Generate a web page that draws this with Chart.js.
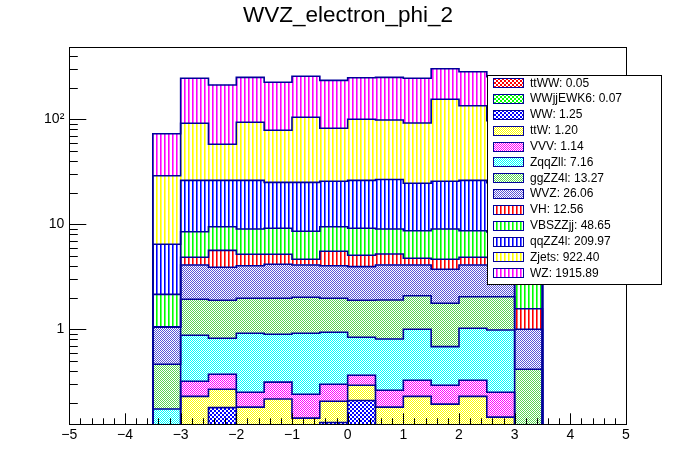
<!DOCTYPE html>
<html>
<head>
<meta charset="utf-8">
<script src="https://cdn.jsdelivr.net/npm/chart.js@4.4.1/dist/chart.umd.min.js"></script>
<style>
html,body{margin:0;padding:0;background:#fff;}
#wrap{width:696px;height:472px;}
canvas{image-rendering:pixelated;}
</style>
</head>
<body>
<div id="wrap"><canvas id="c" width="696" height="472"></canvas></div>
<script>
// ---- data ----
const binEdges = [-3.5, -3, -2.5, -2, -1.5, -1, -0.5, 0, 0.5, 1, 1.5, 2, 2.5, 3, 3.5];
const seriesNames = ['ttWW','WWjjEWK6','WW','ttW','VVV','ZqqZll','ggZZ4l','WVZ','VH','VBSZZjj','qqZZ4l','Zjets','WZ'];
const legendYields = ['0.05','0.07','1.25','1.20','1.14','7.16','13.27','26.06','12.56','48.65','209.97','922.40','1915.89'];

const ttWW     = [0.001,0.004,0.004,0.004,0.004,0.004,0.004,0.004,0.004,0.004,0.004,0.004,0.004,0.001];
const WWjjEWK6 = [0.001,0.0055,0.0055,0.0055,0.0055,0.0055,0.0055,0.0055,0.0055,0.0055,0.0055,0.0055,0.0055,0.001];
const WW       = [0.04,0.10,0.17,0.09,0.10,0.05,0.12,0.20,0.09,0.10,0.09,0.10,0.05,0.03];
const ttW      = [0.02,0.12,0.089,0.082,0.107,0.083,0.077,0.084,0.082,0.12,0.094,0.12,0.086,0.02];
const VVV      = [0.03,0.090,0.105,0.070,0.097,0.098,0.093,0.072,0.081,0.097,0.100,0.097,0.106,0.02];
const ZqqZll   = [0.082,0.557,0.448,0.665,0.583,0.676,0.637,0.474,0.546,0.673,0.390,0.695,0.734,0.04];
const ggZZ4l   = [0.290,1.054,1.068,1.057,1.077,1.104,1.037,1.050,1.092,1.090,1.087,1.018,1.055,0.304];
const WVZ      = [0.581,2.169,2.011,2.057,2.187,2.080,2.057,2.061,2.200,2.010,1.960,2.060,2.050,0.584];
const VH       = [0.01,0.75,1.75,1.15,1.02,0.54,1.50,1.12,1.11,0.65,0.91,0.75,0.75,0.57];
const VBSZZjj  = [1.095,3.65,3.84,3.84,3.98,3.94,3.96,4.09,3.81,3.94,4.38,3.84,3.60,1.30];
const qqZZ4l   = [4.30,17.70,16.71,17.18,15.94,16.52,16.21,17.04,17.68,15.91,16.68,17.51,16.50,4.30];
const Zjets    = [22.55,65.4,31.6,67.4,53.5,79.4,56.4,73.8,71.7,67.6,129.3,108.5,72.0,23.0];
const WZ       = [43.9,154.1,154.2,157.4,146.4,152.5,152.9,149.0,152.6,153.5,148.0,149.3,157.0,45.0];

const yTickValues = [1, 10, 100];
const yTickLabels = ['1', '10', '10\u00B2'];
const titleText = 'WVZ_electron_phi_2';

// ---- styles ----
const seriesValues = [ttWW, WWjjEWK6, WW, ttW, VVV, ZqqZll, ggZZ4l, WVZ, VH, VBSZZjj, qqZZ4l, Zjets, WZ];
const seriesColors = ['#ff0000','#00ff00','#0000ff','#ffff00','#ff00ff','#00ffff','#59d454','#5954d8','#ff0000','#00ff00','#0000ff','#ffff00','#ff00ff'];
const seriesFill   = ['check2','check2','check2','check','check','check','check','check','vline','vline','vline','vline','vline'];
const lineColor = '#00009a';
const FONT = "'Liberation Sans', Arial, Helvetica, sans-serif";
const Y_MIN = 0.1245, Y_MAX = 485, FLOOR = 1e-4;

function makePattern(color, kind) {
  const c = document.createElement('canvas');
  const g = c.getContext('2d');
  if (kind === 'check' || kind === 'check2') {
    const s = kind === 'check2' ? 2 : 1;
    c.width = 8; c.height = 8;
    g.fillStyle = '#fff'; g.fillRect(0, 0, 8, 8);
    g.fillStyle = color;
    for (let yy = 0; yy < 8; yy += s) {
      for (let xx = 0; xx < 8; xx += s) {
        if (((xx / s) + (yy / s)) % 2 === 0) g.fillRect(xx, yy, s, s);
      }
    }
  } else {
    c.width = 4; c.height = 4;
    g.fillStyle = '#fff'; g.fillRect(0, 0, 4, 4);
    g.fillStyle = color; g.fillRect(0, 0, 1, 4);
    g.globalAlpha = 0.6; g.fillRect(1, 0, 1, 4);
  }
  return g.createPattern(c, 'repeat');
}
const patterns = seriesColors.map((col, k) => makePattern(col, seriesFill[k]));

// ---- build stacked layers ----
const centers = binEdges.slice(0, -1).map((e, i) => (e + binEdges[i + 1]) / 2);
const layers = [];
let running = centers.map(() => FLOOR);
seriesValues.forEach(vals => {
  const lo = running.slice();
  running = running.map((r, i) => r + vals[i]);
  layers.push({ lo, hi: running.slice() });
});

const datasets = [];
layers.forEach((L, k) => {
  datasets.push({
    type: 'bar',
    label: seriesNames[k],
    data: centers.map((x, i) => ({ x: x, y: [L.lo[i], L.hi[i]] })),
    backgroundColor: patterns[k],
    borderWidth: 0,
    grouped: false,
    barPercentage: 1,
    categoryPercentage: 1,
    clip: 0,
    order: 2
  });
});
layers.forEach((L, k) => {
  const n = centers.length;
  const pts = [{ x: binEdges[0], y: FLOOR }];
  for (let i = 0; i < n; i++) pts.push({ x: binEdges[i], y: L.hi[i] });
  pts.push({ x: binEdges[n], y: L.hi[n - 1] });
  pts.push({ x: binEdges[n], y: FLOOR });
  datasets.push({
    type: 'line',
    label: seriesNames[k] + '_outline',
    data: pts,
    stepped: true,
    borderColor: lineColor,
    borderWidth: 1.6,
    pointRadius: 0,
    fill: false,
    clip: 0,
    order: 1
  });
});

// ---- plugins ----
const framePlugin = {
  id: 'frameTicks',
  afterDatasetsDraw(chart) {
    const { ctx, chartArea: a, scales: { x, y } } = chart;
    ctx.save();
    ctx.strokeStyle = '#000';
    ctx.lineWidth = 1;
    ctx.beginPath();
    for (let j = -25; j <= 25; j++) {
      const v = j / 5;
      const px = Math.round(x.getPixelForValue(v)) + 0.5;
      const len = (j % 5 === 0) ? 11 : 6;
      ctx.moveTo(px, a.bottom);
      ctx.lineTo(px, a.bottom - len);
    }
    for (let e = -1; e <= 2; e++) {
      for (let d = 1; d <= 9; d++) {
        const v = d * Math.pow(10, e);
        if (v < Y_MIN || v > Y_MAX) continue;
        const py = Math.round(y.getPixelForValue(v)) + 0.5;
        const len = d === 1 ? 17 : 8.5;
        ctx.moveTo(a.left, py);
        ctx.lineTo(a.left + len, py);
      }
    }
    ctx.stroke();
    ctx.strokeRect(Math.round(a.left) + 0.5, Math.round(a.top) + 0.5,
                   Math.round(a.right) - Math.round(a.left), Math.round(a.bottom) - Math.round(a.top));
    ctx.restore();
  }
};

const legendPlugin = {
  id: 'rootLegend',
  afterDraw(chart) {
    const ctx = chart.ctx;
    ctx.save();
    ctx.fillStyle = '#000';
    ctx.font = '22.5px ' + FONT;
    ctx.textAlign = 'center';
    ctx.textBaseline = 'alphabetic';
    ctx.fillText(titleText, chart.width / 2, 21.5);
    const bx = 487.5, by = 75.5, bw = 174, bh = 209;
    const rowTop = 82.8, rowStep = 15.83;
    ctx.fillStyle = '#fff';
    ctx.fillRect(bx, by, bw, bh);
    ctx.strokeStyle = '#000';
    ctx.lineWidth = 1;
    ctx.strokeRect(bx, by, bw, bh);
    ctx.font = '12px ' + FONT;
    ctx.textBaseline = 'middle';
    ctx.textAlign = 'left';
    seriesNames.forEach((name, k) => {
      const cy = rowTop + k * rowStep;
      const sy = Math.round(cy - 4.5) + 0.5;
      ctx.fillStyle = patterns[k];
      ctx.fillRect(493.5, sy, 30, 9);
      ctx.strokeStyle = lineColor;
      ctx.strokeRect(493.5, sy, 30, 9);
      ctx.fillStyle = '#000';
      ctx.fillText(name + ': ' + legendYields[k], 530, cy + 0.5);
    });
    ctx.restore();
  }
};

Chart.defaults.font.family = FONT;
Chart.defaults.color = '#000';

new Chart(document.getElementById('c'), {
  type: 'bar',
  data: { datasets },
  options: {
    responsive: false,
    devicePixelRatio: 1,
    animation: false,
    layout: { padding: { left: 0, right: 70, top: 47.3, bottom: 0 } },
    plugins: {
      legend: { display: false },
      tooltip: { enabled: false },
      title: { display: false }
    },
    scales: {
      x: {
        type: 'linear',
        min: -5, max: 5,
        offset: false,
        grid: { display: false, drawTicks: false },
        border: { display: false },
        ticks: {
          stepSize: 1, autoSkip: false, maxRotation: 0, padding: 2,
          color: '#000', font: { size: 14 },
          callback: v => (v < 0 ? '\u2212' + Math.abs(v) : String(v))
        },
        afterFit: s => { s.height = 47.7; }
      },
      y: {
        type: 'logarithmic',
        min: Y_MIN, max: Y_MAX,
        grid: { display: false, drawTicks: false },
        border: { display: false },
        ticks: {
          autoSkip: false, padding: 5, color: '#000', font: { size: 14 },
          callback: v => { const i = yTickValues.indexOf(v); return i >= 0 ? yTickLabels[i] : ''; }
        },
        afterBuildTicks: s => { s.ticks = yTickValues.map(v => ({ value: v })); },
        afterFit: s => { s.width = 69.3; }
      }
    }
  },
  plugins: [framePlugin, legendPlugin]
});
</script>
</body>
</html>
